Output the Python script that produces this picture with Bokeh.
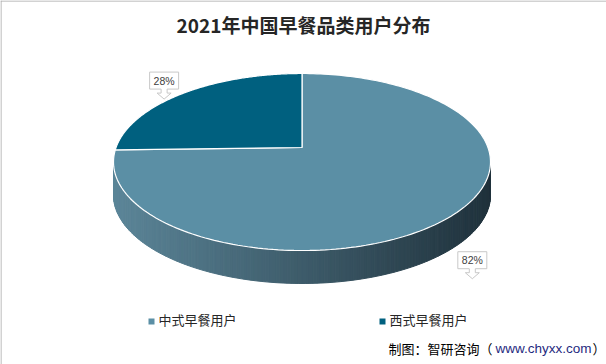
import numpy as np
from bokeh.plotting import figure
from bokeh.models import Range1d
from bokeh.core.properties import value
from bokeh.embed import file_html
from bokeh.resources import INLINE

# ---------------- data ----------------
title = "2021年中国早餐品类用户分布"
categories = ["中式早餐用户", "西式早餐用户"]
values = [82, 28]
labels = ["82%", "28%"]
source_prefix = "制图：智研咨询（"
source_url = "www.chyxx.com"
source_suffix = "）"

# ---------------- style ----------------
W, H = 606, 364
top_colors = ["#5B8FA5", "#00607F"]
side_left = np.array([92, 134, 153])
side_right = np.array([32, 50, 60])
CX, CY, A, B = 301.5, 161.5, 188.5, 88.5   # image ellipse of top face
T = 0.164                                   # perspective shift of disc centre
DEPTH = 33
label_r = [1.26, 1.02]
FONT_CJK = "Noto Sans CJK SC"

p = figure(width=W, height=H, output_backend="svg", toolbar_location=None,
           x_range=Range1d(0, W), y_range=Range1d(H, 0),
           x_axis_location=None, y_axis_location=None, min_border=0)
p.grid.visible = False
p.outline_line_color = None
p.background_fill_color = "white"
p.border_fill_color = "white"


def project(r, th):
    u = r * np.cos(th)
    v = r * np.sin(th)
    k = np.sqrt(1 - T * T)
    den = 1 + T * v
    return CX + A * u * k / den, CY - B * (v + T) / den


# ---------- side wall (gradient) ----------
N = 160
phi = np.linspace(np.pi, 2 * np.pi, N + 1)
ex = CX + A * np.cos(phi)
ey = CY - B * np.sin(phi)
sxs, sys_, scol = [], [], []
for i in range(N):
    xa, xb = ex[i], ex[i + 1]
    ya, yb = ey[i], ey[i + 1]
    sxs.append([xa, xb, xb, xa])
    sys_.append([ya, yb, yb + DEPTH, ya + DEPTH])
    f = ((xa + xb) / 2 - (CX - A)) / (2 * A)
    c = (side_left * (1 - f) + side_right * f).astype(int)
    scol.append("#%02x%02x%02x" % tuple(c))
p.patches(sxs, sys_, fill_color=scol, line_color=scol, line_width=1)

# ---------- top face slices ----------
total = float(sum(values))
start = np.pi / 2
pxs, pys, mids = [], [], []
for v in values:
    sweep = v / total * 2 * np.pi
    th = np.linspace(start, start - sweep, 200)
    x, y = project(1.0, th)
    cx0, cy0 = project(0.0, 0.0)
    pxs.append([cx0] + list(x))
    pys.append([cy0] + list(y))
    mids.append(start - sweep / 2)
    start -= sweep
p.patches(pxs, pys, fill_color=top_colors, line_color="white", line_width=1.2)

# ---------- data label callouts ----------
for i, lab in enumerate(labels):
    m = mids[i]
    tx = CX + A * label_r[i] * np.cos(m)
    ty = CY - B * label_r[i] * np.sin(m)
    if np.sin(m) < 0:
        ty += DEPTH + 6
    bw, bh = 29, 17
    bb = ty - 10
    poly_x = [tx - bw / 2, tx + bw / 2, tx + bw / 2, tx + 3, tx + 3, tx + 7, tx,
              tx - 7, tx - 3, tx - 3, tx - bw / 2]
    poly_y = [bb - bh, bb - bh, bb, bb, ty - 6, ty - 6, ty, ty - 6, ty - 6, bb, bb]
    p.patch(poly_x, poly_y, fill_color="white", line_color="#C8C8C8", line_width=1)
    p.text([tx], [bb - bh / 2], text=[lab], text_align="center", text_baseline="middle",
           text_font=value("Liberation Sans"), text_font_size="10.5px", text_color="#404040")

# ---------- title ----------
p.text([W / 2], [24], text=[title], text_align="center", text_baseline="middle",
       text_font=value(FONT_CJK), text_font_size="19px", text_font_style="bold",
       text_color="#262626")

# ---------- legend ----------
legend_x = [151, 382]
for i, cat in enumerate(categories):
    p.rect([legend_x[i]], [321], width=6, height=6, fill_color=top_colors[i], line_color=None)
    p.text([legend_x[i] + 7], [319], text=[cat], text_align="left", text_baseline="middle",
           text_font=value(FONT_CJK), text_font_size="13px", text_color="#262626")

# ---------- source ----------
p.text([388], [348], text=[source_prefix], text_align="left", text_baseline="middle",
       text_font=value(FONT_CJK), text_font_size="13px", text_color="#000000")
p.text([495], [348], text=[source_url], text_align="left", text_baseline="middle",
       text_font=value("Liberation Sans"), text_font_size="13.5px", text_color="#1F2A80")
p.text([605], [348], text=[source_suffix], text_align="right", text_baseline="middle",
       text_font=value(FONT_CJK), text_font_size="13px", text_color="#000000")

# ---------- frame (top / left) ----------
p.segment([0, 0.5], [0.5, 0], [W, 0.5], [0.5, H], line_color="#A6A6A6", line_width=1)

open("out.html", "w").write(file_html(p, INLINE))
